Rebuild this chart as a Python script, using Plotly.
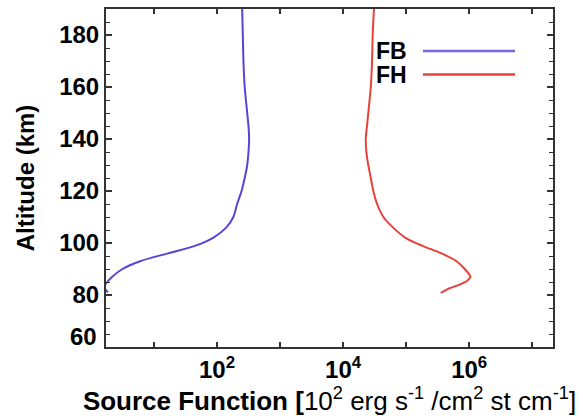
import plotly.graph_objects as go

# FB source function (log10 values) vs altitude (km)
fb_alt = [190, 180, 170, 160, 150, 145, 140, 135, 130, 125, 120, 115, 110, 106, 102, 99, 96, 93, 90, 87, 85, 83, 81.6, 81.0]
fb_log = [2.40, 2.41, 2.42, 2.44, 2.48, 2.50, 2.51, 2.50, 2.48, 2.44, 2.39, 2.32, 2.26, 2.15, 1.94, 1.66, 1.22, 0.78, 0.50, 0.34, 0.26, 0.21, 0.25, 0.27]
# FH source function
fh_alt = [190, 180, 170, 160, 150, 145, 140, 135, 130, 125, 120, 115, 110, 106, 102, 99, 96, 93, 90, 87, 85.5, 84, 82.5, 81.5, 80.8]
fh_log = [4.49, 4.47, 4.46, 4.44, 4.40, 4.38, 4.36, 4.37, 4.40, 4.44, 4.48, 4.54, 4.64, 4.79, 4.99, 5.25, 5.56, 5.80, 5.93, 6.02, 5.97, 5.85, 5.68, 5.60, 5.55]

fb_x = [10 ** v for v in fb_log]
fh_x = [10 ** v for v in fh_log]

x_tickvals = [1e1, 1e2, 1e3, 1e4, 1e5, 1e6, 1e7]
x_ticktext = ["", "10<sup>2</sup>", "", "10<sup>4</sup>", "", "10<sup>6</sup>", ""]
y_tickvals = [60, 80, 100, 120, 140, 160, 180]
y_ticktext = ["", "80", "100", "120", "140", "160", "180"]

BLUE = "#5a42d8"
BLUE_LEG = "#7d66e0"
RED = "#e8413a"
FONT = "Liberation Sans, Arial, sans-serif"

fig = go.Figure()
fig.add_trace(go.Scatter(x=fb_x, y=fb_alt, mode="lines", line=dict(color=BLUE, width=2, shape="spline", smoothing=0.8),
                         name="FB", showlegend=False))
fig.add_trace(go.Scatter(x=fh_x, y=fh_alt, mode="lines", line=dict(color=RED, width=2, shape="spline", smoothing=0.8),
                         name="FH", showlegend=False))

# legend drawn manually (text left of line)
for name, color, yp in [("FB", BLUE_LEG, 0.876), ("FH", RED, 0.806)]:
    fig.add_shape(type="line", xref="paper", yref="paper", x0=0.709, x1=0.915, y0=yp, y1=yp,
                  line=dict(color=color, width=2.5))
    fig.add_annotation(xref="paper", yref="paper", x=0.678, y=yp, text="<b>" + name + "</b>",
                       showarrow=False, xanchor="right", yanchor="middle",
                       font=dict(family=FONT, size=23, color="black"))

# lowest y label sits a little above the corner as in the original
fig.add_annotation(xref="paper", yref="y", x=0, y=60, text="<b>60</b>", showarrow=False,
                   xanchor="right", yanchor="middle", xshift=-7, yshift=11,
                   font=dict(family=FONT, size=24, color="black"))

fig.update_layout(
    width=583, height=416,
    margin=dict(l=106, r=30, t=7, b=69),
    plot_bgcolor="white", paper_bgcolor="white",
    font=dict(family=FONT, color="black"),
    xaxis=dict(
        type="log", range=[0.24, 7.33],
        tickvals=x_tickvals, ticktext=x_ticktext,
        ticks="inside", ticklen=5, tickwidth=1.5, tickcolor="#333",
        showline=True, linecolor="#333", linewidth=2, mirror="allticks",
        showgrid=False, zeroline=False,
        tickfont=dict(family=FONT, size=24, color="black", weight="bold"),
        title=dict(text="<b>Source Function [</b>10<sup>2</sup> erg s<sup>-1</sup> /cm<sup>2</sup> st cm<sup>-1</sup>]",
                   font=dict(family=FONT, size=26, color="black"), standoff=2),
    ),
    yaxis=dict(
        range=[60, 190],
        tickvals=y_tickvals, ticktext=y_ticktext,
        ticks="inside", ticklen=6, tickwidth=1.5, tickcolor="#333",
        minor=dict(dtick=5, ticks="inside", ticklen=4, tickcolor="#333", tickwidth=1),
        showline=True, linecolor="#333", linewidth=2, mirror="allticks",
        showgrid=False, zeroline=False,
        tickfont=dict(family=FONT, size=24, color="black", weight="bold"),
        title=dict(text="<b>Altitude (km)</b>", font=dict(family=FONT, size=24, color="black"), standoff=18),
    ),
)

fig.write_html("out.html", config={"displayModeBar": False},
               post_script="document.body.style.margin='0px';")
